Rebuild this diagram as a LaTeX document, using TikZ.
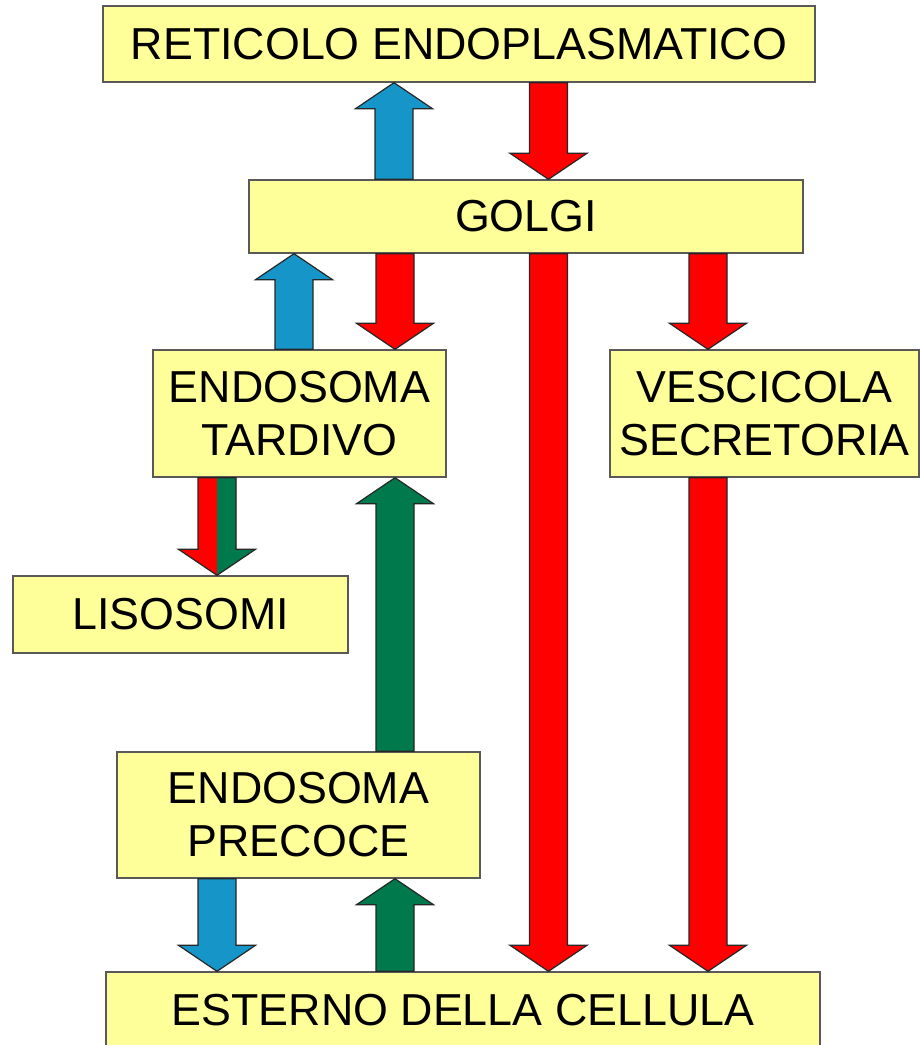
\documentclass[tikz,border=0pt]{standalone}
\usepackage{fontspec}
\setmainfont{Liberation Sans}
\usetikzlibrary{calc}

\definecolor{boxyellow}{RGB}{255,255,153}
\definecolor{arrblue}{RGB}{22,150,200}
\definecolor{arrred}{RGB}{255,0,0}
\definecolor{arrgreen}{RGB}{0,122,77}

% block arrow sizes
\newcommand{\arrshaft}{9.5pt}
\newcommand{\arrhead}{19.25pt}
\newcommand{\arrlen}{13pt}
% vertical block arrow: style, from, to
\newcommand{\flowarrow}[3]{%
  \draw[flow,#1] let \p1=#2, \p2=#3, \n1={ifthenelse(\y2>\y1,1,-1)} in
    ({\x1-\arrshaft},\y1) -- ({\x1-\arrshaft},{\y2-\n1*\arrlen})
    -- ({\x1-\arrhead},{\y2-\n1*\arrlen}) -- (\x1,\y2)
    -- ({\x1+\arrhead},{\y2-\n1*\arrlen}) -- ({\x1+\arrshaft},{\y2-\n1*\arrlen})
    -- ({\x1+\arrshaft},\y1) -- cycle;}

\begin{document}
\begin{tikzpicture}[x=0.5pt,y=-0.5pt,
    box/.style={draw=black!65, fill=boxyellow, line width=0.7pt, inner sep=0pt,
      align=center, font=\fontsize{22.4pt}{26.5pt}\selectfont},
    flow/.style={draw=black!85, line width=0.6pt, line join=miter}]
  \useasboundingbox (0,0) rectangle (920,1045);
  \draw
    (459,44) node[box, minimum width=356pt, minimum height=38pt] (re) {RETICOLO ENDOPLASMATICO}
    (526,216.5) node[box, minimum width=277pt, minimum height=36.5pt] (golgi) {GOLGI}
    (299.5,413.5) node[box, minimum width=146.5pt, minimum height=63.5pt] (et) {ENDOSOMA\\TARDIVO}
    (764.5,413.5) node[box, minimum width=154.5pt, minimum height=63.5pt] (vs) {VESCICOLA\\SECRETORIA}
    (180.5,614.5) node[box, minimum width=167.5pt, minimum height=38.5pt] (lis) {LISOSOMI}
    (298.5,815) node[box, minimum width=181.5pt, minimum height=63pt] (ep) {ENDOSOMA\\PRECOCE}
    (463,1010) node[box, minimum width=357pt, minimum height=38pt] (est) {ESTERNO DELLA CELLULA};
  \begin{scope}
    \flowarrow{fill=arrblue}{(golgi.north -| 394,0)}{(re.south -| 394,0)}
    \flowarrow{fill=arrred}{(re.south -| 548.5,0)}{(golgi.north -| 548.5,0)}
    \flowarrow{fill=arrblue}{(et.north -| 294,0)}{(golgi.south -| 294,0)}
    \flowarrow{fill=arrred}{(golgi.south -| 395,0)}{(et.north -| 395,0)}
    \flowarrow{fill=arrred}{(golgi.south -| 548.5,0)}{(est.north -| 548.5,0)}
    \flowarrow{fill=arrred}{(golgi.south -| 708,0)}{(vs.north -| 708,0)}
    \flowarrow{fill=arrred}{(vs.south -| 708,0)}{(est.north -| 708,0)}
    \flowarrow{fill=arrred, path picture={\fill[arrgreen] (path picture bounding box.south)
      rectangle (path picture bounding box.north east);}}{(et.south -| 217,0)}{(lis.north -| 217,0)}
    \flowarrow{fill=arrgreen}{(ep.north -| 395,0)}{(et.south -| 395,0)}
    \flowarrow{fill=arrblue}{(ep.south -| 217,0)}{(est.north -| 217,0)}
    \flowarrow{fill=arrgreen}{(est.north -| 395,0)}{(ep.south -| 395,0)}
  \end{scope}
\end{tikzpicture}
\end{document}
